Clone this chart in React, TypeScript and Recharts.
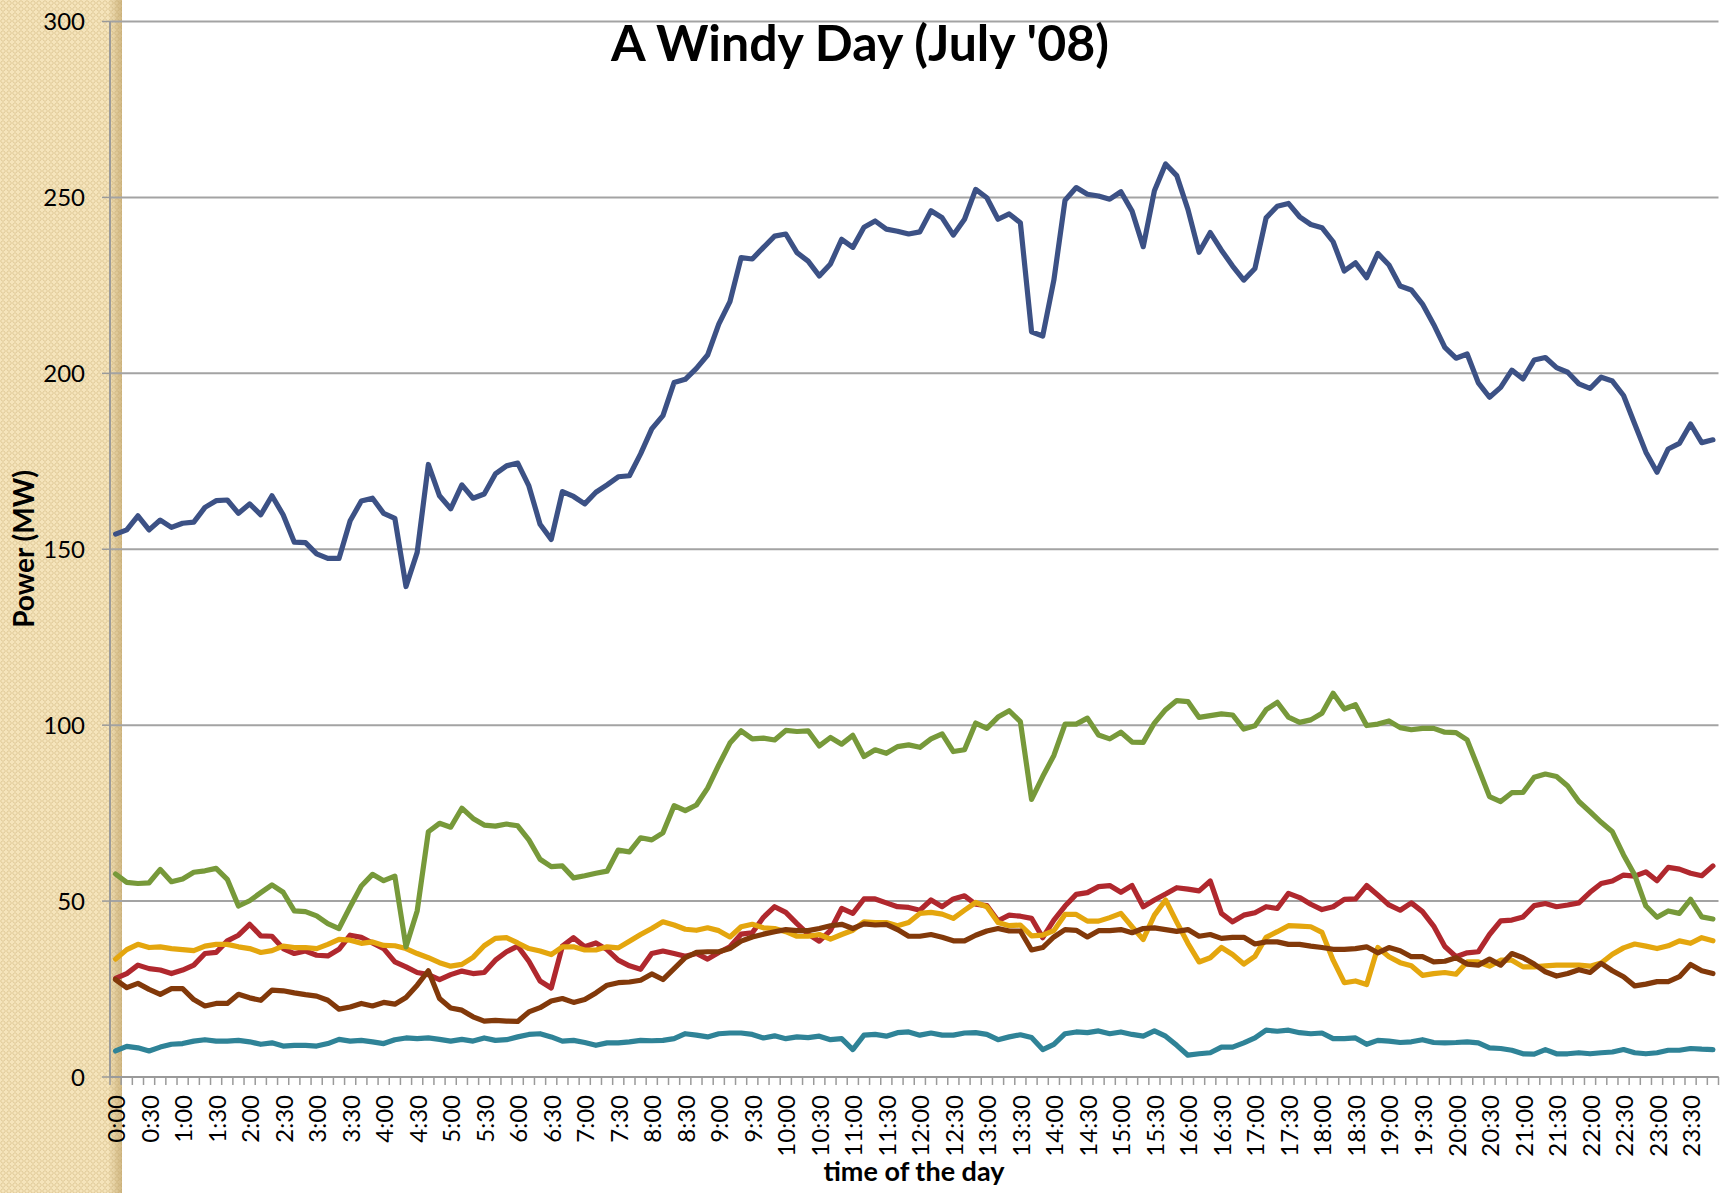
import React from 'react';
import { LineChart, Line, XAxis, YAxis, CartesianGrid } from 'recharts';

// categories: 10-minute steps through the day
const times: string[] = Array.from({ length: 144 }, (_, i) => `${Math.floor(i / 6)}:${String((i % 6) * 10).padStart(2, '0')}`);
const tickLabels: string[] = times.filter((_, i) => i % 3 === 0);
const yTicks = [0, 50, 100, 150, 200, 250, 300];

const seriesBlue = [
  154.3, 155.5, 159.5, 155.5, 158.3, 156.2, 157.4, 157.7, 161.9, 163.8,
  164.0, 160.2, 162.9, 159.8, 165.2, 159.8, 152.0, 151.9, 148.7, 147.4,
  147.4, 158.1, 163.7, 164.5, 160.2, 158.8, 139.4, 149.1, 174.1, 165.2,
  161.5, 168.3, 164.5, 165.7, 171.4, 173.7, 174.5, 168.0, 157.1, 152.8,
  166.4, 165.0, 162.9, 166.2, 168.3, 170.6, 170.9, 177.1, 184.2, 188.0,
  197.4, 198.3, 201.4, 205.2, 214.0, 220.4, 232.9, 232.5, 235.8, 239.0,
  239.6, 234.3, 231.9, 227.7, 231.1, 238.1, 235.8, 241.5, 243.3, 241.0,
  240.4, 239.6, 240.2, 246.2, 244.2, 239.3, 243.8, 252.3, 249.9, 243.8,
  245.3, 242.8, 211.8, 210.6, 226.5, 249.2, 252.8, 250.9, 250.4, 249.5,
  251.6, 246.1, 236.0, 251.9, 259.5, 256.2, 246.6, 234.4, 240.0, 235.0,
  230.5, 226.5, 229.8, 244.2, 247.5, 248.3, 244.5, 242.3, 241.4, 237.4,
  229.1, 231.4, 227.2, 234.1, 230.8, 224.8, 223.7, 219.7, 213.9, 207.4,
  204.3, 205.5, 197.3, 193.2, 196.0, 200.9, 198.4, 203.8, 204.5, 201.6,
  200.3, 197.0, 195.7, 198.9, 197.8, 193.7, 185.6, 177.6, 171.9, 178.5,
  180.1, 185.6, 180.3, 181.1,
];

const seriesGreen = [
  57.7, 55.3, 55.0, 55.2, 59.0, 55.5, 56.3, 58.2, 58.6, 59.3,
  56.2, 48.6, 50.1, 52.4, 54.6, 52.5, 47.2, 47.0, 45.8, 43.6,
  42.2, 48.4, 54.3, 57.6, 55.8, 57.1, 37.0, 47.2, 69.7, 72.1,
  71.0, 76.4, 73.5, 71.6, 71.3, 71.9, 71.4, 67.4, 61.9, 59.8,
  60.0, 56.6, 57.2, 57.9, 58.5, 64.5, 64.0, 68.0, 67.4, 69.4,
  77.1, 75.7, 77.3, 82.1, 88.7, 94.9, 98.4, 96.1, 96.3, 95.8,
  98.5, 98.2, 98.4, 94.1, 96.5, 94.6, 97.1, 91.1, 93.0, 92.0,
  93.9, 94.4, 93.7, 96.1, 97.5, 92.5, 93.0, 100.6, 99.1, 102.3,
  104.1, 101.0, 78.9, 85.4, 91.4, 100.3, 100.3, 102.0, 97.2, 96.1,
  98.0, 95.2, 95.1, 100.6, 104.4, 107.0, 106.7, 102.2, 102.7, 103.2,
  102.9, 98.9, 99.8, 104.4, 106.5, 102.3, 100.8, 101.5, 103.4, 109.1,
  104.6, 105.8, 99.9, 100.3, 101.2, 99.3, 98.7, 99.1, 99.1, 98.0,
  97.9, 95.8, 87.8, 79.7, 78.3, 80.8, 80.9, 85.2, 86.1, 85.4,
  82.7, 78.3, 75.4, 72.4, 69.7, 63.1, 57.4, 48.6, 45.4, 47.2,
  46.5, 50.5, 45.5, 44.9,
];

const seriesYellow = [
  33.5, 36.2, 37.7, 36.8, 37.0, 36.5, 36.2, 35.9, 37.2, 37.7,
  37.7, 37.0, 36.5, 35.4, 35.9, 37.2, 36.8, 36.8, 36.5, 37.7,
  39.1, 38.9, 38.0, 38.4, 37.4, 37.3, 36.5, 35.1, 33.9, 32.5,
  31.5, 32.0, 34.0, 37.3, 39.4, 39.6, 38.1, 36.5, 35.8, 34.8,
  37.0, 37.0, 36.1, 36.1, 37.0, 36.7, 38.6, 40.5, 42.2, 44.1,
  43.2, 42.0, 41.7, 42.4, 41.6, 39.8, 42.7, 43.4, 42.4, 42.2,
  41.3, 40.0, 40.0, 40.5, 39.2, 40.5, 41.7, 44.1, 43.9, 43.9,
  43.0, 43.9, 46.5, 46.8, 46.3, 45.1, 47.4, 49.6, 48.4, 43.9,
  43.0, 43.2, 40.1, 40.3, 41.6, 46.2, 46.2, 44.3, 44.3, 45.3,
  46.5, 42.7, 39.1, 46.0, 50.3, 44.0, 38.0, 32.7, 33.9, 36.8,
  34.8, 32.1, 34.3, 39.7, 41.3, 43.0, 42.9, 42.7, 41.1, 33.2,
  26.8, 27.3, 26.3, 36.8, 34.2, 32.5, 31.6, 28.9, 29.4, 29.7,
  29.2, 32.7, 32.7, 31.5, 33.2, 33.2, 31.3, 31.3, 31.6, 31.8,
  31.8, 31.8, 31.5, 32.4, 34.9, 36.7, 37.8, 37.2, 36.5, 37.3,
  38.7, 38.0, 39.6, 38.7,
];

const seriesRed = [
  28.0, 29.4, 31.8, 30.8, 30.4, 29.4, 30.4, 31.8, 35.1, 35.4,
  38.7, 40.3, 43.4, 40.1, 40.0, 36.5, 35.1, 35.8, 34.6, 34.4,
  36.3, 40.3, 39.7, 38.1, 36.5, 32.7, 31.3, 29.7, 29.1, 27.7,
  29.1, 30.1, 29.4, 29.7, 33.2, 35.6, 37.2, 32.9, 27.3, 25.3,
  37.2, 39.6, 37.0, 38.1, 36.2, 33.2, 31.6, 30.6, 35.1, 35.8,
  35.1, 34.3, 35.1, 33.5, 35.4, 37.0, 40.6, 41.0, 45.4, 48.4,
  46.8, 43.6, 40.6, 38.6, 41.7, 47.9, 46.5, 50.6, 50.6, 49.5,
  48.4, 48.2, 47.4, 50.3, 48.4, 50.6, 51.5, 49.1, 48.7, 44.4,
  46.0, 45.7, 45.1, 39.6, 44.6, 48.6, 51.9, 52.4, 54.1, 54.4,
  52.5, 54.4, 48.4, 50.3, 52.0, 53.8, 53.4, 52.9, 55.7, 46.5,
  44.1, 46.0, 46.7, 48.4, 47.9, 52.2, 51.0, 49.1, 47.6, 48.4,
  50.5, 50.6, 54.4, 51.7, 48.9, 47.4, 49.5, 47.0, 42.9, 37.1,
  34.2, 35.3, 35.6, 40.5, 44.4, 44.6, 45.5, 48.7, 49.3, 48.4,
  48.9, 49.5, 52.5, 55.0, 55.7, 57.4, 57.1, 58.3, 55.8, 59.6,
  59.1, 57.9, 57.2, 60.0,
];

const seriesBrown = [
  27.7, 25.4, 26.6, 24.9, 23.5, 25.1, 25.1, 22.0, 20.2, 20.9,
  20.9, 23.5, 22.5, 21.8, 24.7, 24.5, 23.9, 23.4, 23.0, 21.8,
  19.3, 19.9, 20.9, 20.2, 21.2, 20.7, 22.6, 26.1, 30.2, 22.3,
  19.6, 19.0, 17.1, 15.9, 16.1, 15.9, 15.8, 18.5, 19.7, 21.6,
  22.3, 21.2, 22.0, 23.9, 26.1, 26.8, 27.0, 27.5, 29.3, 27.7,
  30.8, 33.9, 35.4, 35.6, 35.6, 36.5, 38.6, 39.8, 40.6, 41.3,
  41.9, 41.6, 41.6, 42.2, 43.0, 43.4, 42.2, 43.5, 43.2, 43.4,
  41.9, 40.0, 40.0, 40.5, 39.7, 38.7, 38.7, 40.3, 41.5, 42.2,
  41.5, 41.5, 36.1, 36.8, 39.8, 41.9, 41.7, 39.8, 41.6, 41.6,
  41.9, 41.0, 42.2, 42.4, 41.9, 41.4, 41.9, 40.0, 40.5, 39.4,
  39.7, 39.7, 37.8, 38.4, 38.4, 37.7, 37.7, 37.2, 36.8, 36.3,
  36.3, 36.5, 37.0, 35.3, 36.8, 35.9, 34.2, 34.2, 32.7, 32.9,
  33.9, 32.1, 31.8, 33.5, 31.8, 35.1, 33.9, 32.1, 29.9, 28.7,
  29.4, 30.5, 29.7, 32.3, 30.2, 28.5, 25.9, 26.4, 27.1, 27.1,
  28.5, 32.0, 30.2, 29.4,
];

const seriesTeal = [
  7.4, 8.7, 8.3, 7.4, 8.5, 9.3, 9.5, 10.2, 10.6, 10.2,
  10.2, 10.4, 10.0, 9.3, 9.7, 8.8, 9.0, 9.0, 8.8, 9.5,
  10.7, 10.2, 10.4, 10.0, 9.5, 10.6, 11.1, 10.9, 11.1, 10.7,
  10.2, 10.7, 10.2, 11.1, 10.4, 10.6, 11.4, 12.1, 12.3, 11.4,
  10.2, 10.4, 9.8, 9.0, 9.7, 9.7, 10.0, 10.4, 10.3, 10.4,
  10.9, 12.3, 11.9, 11.4, 12.3, 12.5, 12.5, 12.1, 11.1, 11.7,
  10.9, 11.4, 11.2, 11.6, 10.6, 10.9, 7.8, 11.9, 12.1, 11.6,
  12.6, 12.8, 11.9, 12.5, 11.9, 11.9, 12.5, 12.6, 12.1, 10.6,
  11.4, 12.0, 11.2, 7.8, 9.3, 12.3, 12.8, 12.6, 13.1, 12.3,
  12.8, 12.1, 11.6, 13.1, 11.6, 9.0, 6.2, 6.6, 6.9, 8.5,
  8.5, 9.7, 11.1, 13.3, 13.0, 13.3, 12.6, 12.3, 12.5, 10.9,
  10.9, 11.1, 9.3, 10.4, 10.2, 9.8, 10.0, 10.6, 9.8, 9.7,
  9.8, 10.0, 9.7, 8.3, 8.1, 7.6, 6.6, 6.5, 7.8, 6.6,
  6.6, 6.9, 6.6, 6.9, 7.1, 7.8, 6.9, 6.6, 6.9, 7.6,
  7.6, 8.1, 7.9, 7.8,
];

const data = times.map((t, i) => ({
  time: t,
  blue: seriesBlue[i],
  green: seriesGreen[i],
  yellow: seriesYellow[i],
  red: seriesRed[i],
  brown: seriesBrown[i],
  teal: seriesTeal[i],
}));

const W = 1733;
const H = 1193;
const PLOT_LEFT = 110;
const PLOT_RIGHT = 1718.5;
const PLOT_TOP = 21.5;
const PLOT_BOTTOM = 1077;
const BAND = (PLOT_RIGHT - PLOT_LEFT) / times.length;
const FONT = 'Lato, "Open Sans", sans-serif';
const AXIS_GRAY = '#9a9a9a';
const LINE_W = 5.2;

function XTick(props: any) {
  const { x, payload, index } = props;
  const show = tickLabels.includes(payload.value);
  const bx = x - BAND / 2;
  const ly = PLOT_BOTTOM + 18;
  return (
    <g>
      <line x1={bx} x2={bx} y1={PLOT_BOTTOM} y2={PLOT_BOTTOM + 8} stroke={AXIS_GRAY} strokeWidth={1.5} />
      {index === times.length - 1 && (
        <line x1={x + BAND / 2} x2={x + BAND / 2} y1={PLOT_BOTTOM} y2={PLOT_BOTTOM + 8} stroke={AXIS_GRAY} strokeWidth={1.5} />
      )}
      {show && (
        <text
          x={x}
          y={ly}
          transform={`rotate(-90 ${x} ${ly})`}
          textAnchor="end"
          dominantBaseline="central"
          fontSize={24}
          fontFamily={FONT}
          fill="#000"
        >
          {payload.value}
        </text>
      )}
    </g>
  );
}

const stripStyle: React.CSSProperties = {
  position: 'absolute',
  left: 0,
  top: 0,
  width: 122,
  height: H,
  backgroundColor: '#F5E4BB',
  backgroundImage:
    'linear-gradient(to right, rgba(0,0,0,0) 0px, rgba(0,0,0,0) 108px, rgba(185,155,95,0.6) 122px), radial-gradient(circle at 50% 50%, rgba(0,0,0,0) 1.3px, rgba(200,172,115,0.4) 1.8px, rgba(200,172,115,0.4) 2.4px, rgba(0,0,0,0) 2.9px)',
  backgroundSize: '122px 100%, 6px 6px',
  backgroundRepeat: 'no-repeat, repeat',
};

export default function App() {
  return (
    <div style={{ position: 'absolute', left: 0, top: 0, width: W, height: H, background: '#fff', overflow: 'hidden' }}>
      <div style={stripStyle} />
      <div style={{ position: 'absolute', left: 0, top: 0 }}>
        <LineChart
          width={W}
          height={H}
          data={data}
          margin={{ top: PLOT_TOP, right: W - PLOT_RIGHT, bottom: 0, left: 0 }}
          style={{ fontFamily: FONT }}
        >
          <CartesianGrid vertical={false} stroke="#a3a3a3" strokeWidth={2} />
          <XAxis
            dataKey="time"
            interval={0}
            height={H - PLOT_BOTTOM}
            padding={{ left: BAND / 2, right: BAND / 2 }}
            tick={<XTick />}
            tickLine={false}
            axisLine={{ stroke: AXIS_GRAY, strokeWidth: 2 }}
          />
          <YAxis
            type="number"
            domain={[0, 300]}
            ticks={yTicks}
            width={PLOT_LEFT}
            tickSize={8}
            tickMargin={17}
            tick={{ fill: '#000', fontSize: 24, fontFamily: FONT }}
            tickLine={{ stroke: AXIS_GRAY, strokeWidth: 1.5 }}
            axisLine={{ stroke: AXIS_GRAY, strokeWidth: 2 }}
          />
          <Line dataKey="blue" stroke="#3C5185" strokeWidth={LINE_W} dot={false} type="linear" isAnimationActive={false} strokeLinejoin="round" strokeLinecap="round" />
          <Line dataKey="red" stroke="#B0282E" strokeWidth={LINE_W} dot={false} type="linear" isAnimationActive={false} strokeLinejoin="round" strokeLinecap="round" />
          <Line dataKey="yellow" stroke="#E4A60E" strokeWidth={LINE_W} dot={false} type="linear" isAnimationActive={false} strokeLinejoin="round" strokeLinecap="round" />
          <Line dataKey="brown" stroke="#82390A" strokeWidth={LINE_W} dot={false} type="linear" isAnimationActive={false} strokeLinejoin="round" strokeLinecap="round" />
          <Line dataKey="green" stroke="#77993A" strokeWidth={LINE_W} dot={false} type="linear" isAnimationActive={false} strokeLinejoin="round" strokeLinecap="round" />
          <Line dataKey="teal" stroke="#2F8397" strokeWidth={LINE_W} dot={false} type="linear" isAnimationActive={false} strokeLinejoin="round" strokeLinecap="round" />
        </LineChart>
      </div>
      <svg width={W} height={H} style={{ position: 'absolute', left: 0, top: 0, pointerEvents: 'none' }}>
        <text x={860} y={61} textAnchor="middle" fontSize={50} fontWeight={700} fontFamily={FONT} fill="#000">
          A Windy Day (July '08)
        </text>
        <text x={914} y={1181} textAnchor="middle" fontSize={27} fontWeight={700} fontFamily={FONT} fill="#000">
          time of the day
        </text>
        <text
          x={23}
          y={549}
          transform="rotate(-90 23 549)"
          textAnchor="middle"
          dominantBaseline="central"
          fontSize={28}
          fontWeight={700}
          fontFamily={FONT}
          fill="#000"
        >
          Power (MW)
        </text>
      </svg>
    </div>
  );
}
